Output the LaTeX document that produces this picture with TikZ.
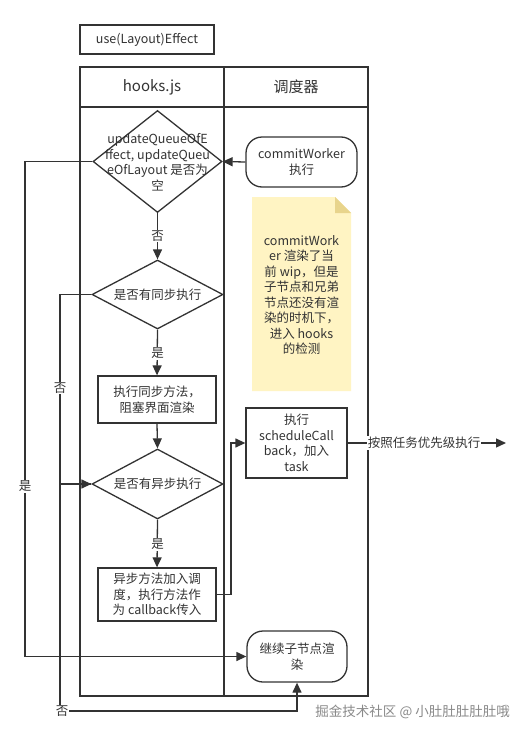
\documentclass[tikz,border=0pt]{standalone}
\usepackage{fontspec}
\setmainfont{Noto Sans CJK SC}
\usetikzlibrary{shapes.geometric,arrows.meta}
\definecolor{ln}{HTML}{333333}
\definecolor{notefill}{HTML}{FFF4C3}
\definecolor{notefold}{HTML}{E8D48C}
\definecolor{wm}{HTML}{8A8A8A}
\tikzset{
  base/.style={draw=ln, line width=1.3pt, fill=white, align=center, inner sep=0pt, text=ln},
  boxn/.style={base, rectangle},
  roundn/.style={base, rectangle, rounded corners=16pt},
  dia/.style={draw=ln, line width=1.3pt, fill=white, diamond, inner sep=0pt},
  txt/.style={align=center, inner sep=0pt, text=ln},
  conn/.style={draw=ln, line width=1.3pt, -{Triangle[length=10pt,width=9pt]}},
  plain/.style={draw=ln, line width=1.3pt},
  lbl/.style={fill=white, inner sep=1pt, text=ln},
}
\begin{document}
\begin{tikzpicture}[x=1pt,y=-1pt,font=\fontsize{12.5}{15.5}\selectfont]
\useasboundingbox (0,0) rectangle (526,736);
\fill[white] (0,0) rectangle (526,736);

% title
\node[boxn, minimum width=134pt, minimum height=29pt] (title) at (147,39.5) {use(Layout)Effect};

% swimlanes
\draw[plain] (80,67) rectangle (368,696);
\draw[plain] (80,107) -- (368,107);
\draw[plain] (224,67) -- (224,696);
\node[txt, font=\fontsize{15}{18}\selectfont] (h1) at (152,87) {hooks.js};
\node[txt, font=\fontsize{15}{18}\selectfont] (h2) at (296,87) {调度器};

% helper coordinates
\coordinate (lx) at (25,0);
\coordinate (mx) at (60,0);
\coordinate (ax) at (231,0);
\coordinate (by) at (0,711);
\coordinate (endp) at (506,443);

% left lane
\node[dia, minimum width=129pt, minimum height=102pt] (d1) at (157.5,161.5) {};
\node[txt] (d1t) at (157.5,162) {updateQueueOfE\\ffect, updateQueu\\eOfLayout 是否为\\空};

\node[dia, minimum width=131pt, minimum height=69pt] (d2) at (157.5,294.5) {};
\node[txt] (d2t) at (157.5,294.5) {是否有同步执行};

\node[boxn, minimum width=118pt, minimum height=47pt] (b1) at (157,399.5) {执行同步方法，\\阻塞界面渲染};

\node[dia, minimum width=131pt, minimum height=70pt] (d3) at (157.5,484) {};
\node[txt] (d3t) at (157.5,484) {是否有异步执行};

\node[boxn, minimum width=118pt, minimum height=53pt] (b2) at (157,594.5) {异步方法加入调\\度，执行方法作\\为 callback传入};

% right lane
\node[roundn, minimum width=111pt, minimum height=50pt] (cw) at (301.5,162) {commitWorker\\执行};

\fill[notefill] (252,197) -- (335,197) -- (351,213) -- (351,391) -- (252,391) -- cycle;
\fill[notefold] (335,197) -- (351,213) -- (335,213) -- cycle;
\node[txt] (note) at (301.5,295) {commitWork\\er 渲染了当\\前 wip，但是\\子节点和兄弟\\节点还没有渲\\染的时机下，\\进入 hooks\\的检测};

\node[boxn, minimum width=101pt, minimum height=70pt] (sc) at (296.5,443) {执行\\scheduleCall\\back，加入\\task};

\node[roundn, minimum width=100pt, minimum height=51pt] (cont) at (297,656.5) {继续子节点渲\\染};

% connectors
\draw[conn] (cw.west) -- (d1.east);
\draw[conn] (d1.south) -- (d2.north);
\node[lbl] (l1) at (157.5,236) {否};

\draw[conn] (d2.south) -- (b1.north);
\node[lbl] (l2) at (157.5,353) {是};

\draw[conn] (b1.south) -- (d3.north);

\draw[conn] (d3.south) -- (b2.north);
\node[lbl] (l3) at (157.5,544) {是};

\draw[conn] (d1.west) -- (d1.west -| lx) -- (cont.west -| lx) -- (cont.west);
\node[lbl] (l4) at (25,486) {是};

\draw[conn] (d2.west) -- (d2.west -| mx) -- (d3.west -| mx) -- (d3.west);
\node[lbl] (l5) at (60,388) {否};

\draw[conn] (d3.west) -- (d3.west -| mx) -- (mx |- by) -- (cont.south |- by) -- (cont.south);
\node[lbl] (l6) at (62,711) {否};

\draw[conn] (b2.east) -- (b2.east -| ax) -- (sc.west -| ax) -- (sc.west);

\draw[conn] (sc.east) -- (endp);
\node[lbl] (l7) at (424,443) {按照任务优先级执行};

% watermark
\node[txt, text=wm, anchor=east, font=\fontsize{13.5}{16}\selectfont] (wmk) at (510,712) {掘金技术社区 @ 小肚肚肚肚肚哦};
\end{tikzpicture}
\end{document}
